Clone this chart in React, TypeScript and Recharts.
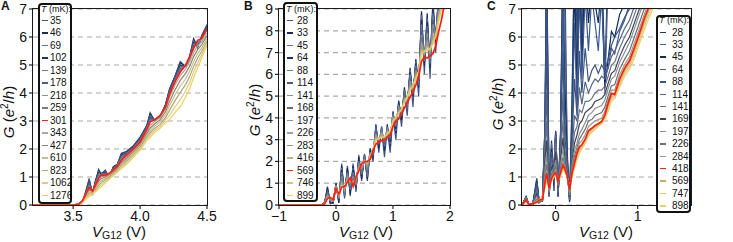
import React from "react";
import { LineChart, Line, XAxis, YAxis, CartesianGrid } from "recharts";

const FONT = '"Liberation Sans", Arial, Helvetica, sans-serif';
const RED = "#ff1e0f";

// ---------- panel A : G vs VG12, 3.2..4.5 V ----------
const aV = [3.2, 3.5, 3.54, 3.57, 3.6, 3.62, 3.645, 3.665, 3.69, 3.71, 3.74, 3.77, 3.8, 3.83, 3.86, 3.9, 3.95, 4.0, 4.05, 4.075, 4.11, 4.15, 4.19, 4.22, 4.26, 4.3, 4.34, 4.37, 4.4, 4.43, 4.46, 4.5];
const aTemps = ["35", "46", "69", "102", "139", "178", "218", "259", "301", "343", "427", "610", "823", "1062", "1276"];
const aG35 = [0, 0, 0.02, 0.1, 0.6, 0.95, 0.35, 0.8, 1.28, 1.1, 1.25, 0.95, 1.38, 1.45, 1.85, 1.92, 2.12, 2.42, 2.85, 3.3, 3.0, 3.15, 3.6, 4.15, 4.6, 5.12, 4.95, 5.3, 5.95, 5.65, 6.05, 6.45];
const aG46 = [0, 0, 0.02, 0.1, 0.55, 0.9, 0.4, 0.85, 1.22, 1.12, 1.22, 1.0, 1.35, 1.45, 1.82, 1.9, 2.1, 2.4, 2.82, 3.25, 3.02, 3.15, 3.58, 4.12, 4.58, 5.08, 4.95, 5.28, 5.9, 5.62, 6.02, 6.4];
const aG69 = [0, 0, 0.02, 0.11, 0.52, 0.85, 0.42, 0.82, 1.18, 1.12, 1.2, 1.02, 1.33, 1.44, 1.8, 1.88, 2.08, 2.38, 2.8, 3.18, 3.02, 3.14, 3.56, 4.08, 4.55, 5.02, 4.95, 5.25, 5.85, 5.65, 6.0, 6.38];
const aG102 = [0, 0, 0.02, 0.11, 0.5, 0.8, 0.44, 0.8, 1.15, 1.12, 1.17, 1.04, 1.31, 1.43, 1.77, 1.86, 2.07, 2.36, 2.78, 3.12, 3.03, 3.14, 3.55, 4.05, 4.52, 4.98, 4.96, 5.24, 5.8, 5.68, 5.98, 6.35];
const aG139 = [0, 0, 0.02, 0.12, 0.48, 0.75, 0.46, 0.77, 1.1, 1.1, 1.14, 1.06, 1.29, 1.42, 1.73, 1.84, 2.05, 2.33, 2.76, 3.08, 3.04, 3.15, 3.53, 4.02, 4.48, 4.92, 4.97, 5.22, 5.75, 5.7, 5.96, 6.3];
const aG178 = [0, 0, 0.03, 0.13, 0.47, 0.71, 0.47, 0.75, 1.05, 1.09, 1.11, 1.08, 1.27, 1.4, 1.69, 1.81, 2.03, 2.3, 2.73, 3.04, 3.04, 3.16, 3.51, 3.99, 4.44, 4.86, 4.98, 5.2, 5.68, 5.72, 5.93, 6.28];
const aG218 = [0, 0, 0.03, 0.14, 0.46, 0.68, 0.48, 0.72, 1.01, 1.08, 1.09, 1.1, 1.26, 1.39, 1.65, 1.79, 2.01, 2.28, 2.71, 3.0, 3.05, 3.17, 3.5, 3.97, 4.42, 4.8, 4.98, 5.22, 5.62, 5.78, 5.92, 6.27];
const aG259 = [0, 0, 0.03, 0.14, 0.45, 0.65, 0.49, 0.71, 0.98, 1.07, 1.07, 1.11, 1.25, 1.38, 1.62, 1.78, 2.0, 2.26, 2.7, 2.98, 3.05, 3.18, 3.5, 3.96, 4.41, 4.77, 4.99, 5.25, 5.6, 5.82, 5.93, 6.28];
const aG301 = [0, 0, 0.03, 0.15, 0.45, 0.63, 0.5, 0.7, 0.96, 1.07, 1.06, 1.13, 1.25, 1.38, 1.6, 1.78, 2.0, 2.25, 2.7, 2.97, 3.05, 3.2, 3.5, 3.95, 4.4, 4.75, 5.0, 5.3, 5.6, 5.88, 5.95, 6.3];
const aG343 = [0, 0, 0.04, 0.16, 0.43, 0.58, 0.5, 0.66, 0.9, 1.0, 1.05, 1.1, 1.2, 1.33, 1.55, 1.72, 1.95, 2.2, 2.62, 2.85, 2.98, 3.12, 3.42, 3.85, 4.28, 4.62, 4.85, 5.12, 5.45, 5.68, 5.82, 6.15];
const aG427 = [0, 0, 0.04, 0.15, 0.4, 0.53, 0.5, 0.62, 0.84, 0.94, 1.0, 1.08, 1.16, 1.29, 1.5, 1.67, 1.9, 2.15, 2.55, 2.75, 2.9, 3.05, 3.33, 3.7, 4.1, 4.45, 4.7, 4.95, 5.3, 5.55, 5.72, 6.05];
const aG610 = [0, 0, 0.04, 0.14, 0.36, 0.47, 0.48, 0.58, 0.77, 0.87, 0.95, 1.04, 1.13, 1.26, 1.45, 1.62, 1.86, 2.1, 2.48, 2.66, 2.82, 2.97, 3.22, 3.55, 3.92, 4.25, 4.5, 4.78, 5.12, 5.4, 5.6, 5.95];
const aG823 = [0, 0, 0.03, 0.13, 0.32, 0.42, 0.45, 0.54, 0.7, 0.8, 0.9, 1.0, 1.1, 1.23, 1.4, 1.57, 1.81, 2.06, 2.42, 2.58, 2.74, 2.88, 3.12, 3.38, 3.72, 4.02, 4.3, 4.58, 4.95, 5.25, 5.48, 5.85];
const aG1062 = [0, 0, 0.03, 0.11, 0.27, 0.36, 0.42, 0.5, 0.63, 0.72, 0.84, 0.96, 1.07, 1.2, 1.35, 1.51, 1.76, 2.01, 2.36, 2.5, 2.67, 2.81, 3.03, 3.2, 3.5, 3.76, 4.07, 4.37, 4.75, 5.08, 5.37, 5.78];
const aG1276 = [0, 0, 0.03, 0.1, 0.22, 0.3, 0.38, 0.46, 0.57, 0.65, 0.78, 0.93, 1.05, 1.17, 1.3, 1.45, 1.7, 1.96, 2.3, 2.42, 2.6, 2.74, 2.95, 3.04, 3.3, 3.51, 3.85, 4.15, 4.55, 4.9, 5.25, 5.7];
const aColors = ["#3c5687", "#1b2d57", "#5b73a1", "#1f3260", "#6a7d9e", "#4b5d80", "#8790a6", "#787c86", RED, "#a9a9a2", "#8f8664", "#c4bc98", "#b3a472", "#d9cb8c", "#f0cf55"];

// ---------- panel B : -1..2 V ----------
const bV = [-1, -0.3, -0.25, -0.2, -0.15, -0.1, -0.05, 0, 0.05, 0.1, 0.15, 0.2, 0.25, 0.3, 0.35, 0.4, 0.45, 0.5, 0.55, 0.6, 0.65, 0.7, 0.75, 0.8, 0.85, 0.9, 0.95, 1.0, 1.05, 1.1, 1.15, 1.2, 1.25, 1.3, 1.35, 1.4, 1.45, 1.5, 1.55, 1.6, 1.65, 1.7, 1.75, 1.8, 1.85, 1.9, 2.0];
const bTemps = ["28", "33", "45", "64", "88", "114", "141", "168", "197", "226", "283", "416", "569", "746", "899"];
const bG28 = [0, 0, 0, 0.1, 0.85, 0.05, 0.1, 1.0, 0.1, 1.9, 0.3, 1.8, 0.4, 1.9, 0.6, 2.3, 1.1, 2.35, 1.1, 2.5, 2.0, 3.6, 2.4, 3.5, 2.2, 3.5, 2.4, 4.1, 3.0, 4.6, 3.6, 5.2, 4.1, 6.1, 4.5, 6.5, 5.0, 8.8, 6.0, 8.6, 5.8, 9.2, 7.0, 9.5, 9.3, 10, 11];
const bG33 = [0, 0, 0, 0.1, 0.8, 0.1, 0.1, 1.0, 0.1, 1.8, 0.4, 1.7, 0.5, 1.8, 0.7, 2.2, 1.2, 2.3, 1.2, 2.6, 2.2, 3.7, 2.6, 3.6, 2.5, 3.7, 2.7, 4.3, 3.3, 4.8, 3.9, 5.4, 4.5, 6.3, 4.9, 6.7, 5.4, 8.9, 6.4, 8.8, 6.3, 9.4, 7.5, 9.8, 9.7, 10.4, 11.5];
const bG45 = [0, 0, 0, 0.1, 0.7, 0.1, 0.1, 0.9, 0.2, 1.7, 0.4, 1.6, 0.6, 1.7, 0.7, 2.1, 1.3, 2.3, 1.3, 2.5, 2.2, 3.6, 2.7, 3.6, 2.6, 3.6, 2.8, 4.2, 3.4, 4.7, 4.0, 5.3, 4.5, 6.2, 4.9, 6.6, 5.5, 8.7, 6.5, 8.6, 6.4, 9.1, 7.6, 9.7, 9.6, 10.3, 11.4];
const bG64 = [0, 0, 0, 0.1, 0.7, 0.1, 0.1, 0.9, 0.2, 1.6, 0.5, 1.6, 0.6, 1.6, 0.8, 2.1, 1.3, 2.2, 1.4, 2.5, 2.2, 3.5, 2.7, 3.5, 2.6, 3.5, 2.9, 4.2, 3.5, 4.7, 4.0, 5.2, 4.6, 6.1, 5.0, 6.5, 5.6, 8.5, 6.5, 8.4, 6.4, 9.0, 7.6, 9.6, 9.6, 10.3, 11.4];
const bG88 = [0, 0, 0, 0.1, 0.6, 0.2, 0.2, 0.9, 0.3, 1.5, 0.5, 1.5, 0.7, 1.5, 0.9, 2.0, 1.4, 2.2, 1.4, 2.4, 2.3, 3.5, 2.8, 3.5, 2.7, 3.5, 3.0, 4.2, 3.6, 4.6, 4.1, 5.2, 4.6, 6.0, 5.1, 6.4, 5.6, 8.3, 6.6, 8.2, 6.5, 8.8, 7.6, 9.4, 9.5, 10.2, 11.3];
const bG114 = [0, 0, 0, 0.1, 0.6, 0.2, 0.2, 0.9, 0.3, 1.4, 0.6, 1.4, 0.8, 1.4, 0.9, 1.9, 1.5, 2.2, 1.5, 2.4, 2.3, 3.4, 2.8, 3.4, 2.8, 3.5, 3.0, 4.1, 3.7, 4.5, 4.1, 5.1, 4.7, 5.8, 5.1, 6.3, 5.7, 8.0, 6.7, 8.1, 6.6, 8.5, 7.6, 9.3, 9.4, 10.1, 11.3];
const bG141 = [0, 0, 0, 0.1, 0.5, 0.2, 0.2, 0.9, 0.3, 1.3, 0.6, 1.4, 0.9, 1.3, 1.0, 1.9, 1.6, 2.1, 1.6, 2.4, 2.4, 3.3, 2.9, 3.4, 2.9, 3.5, 3.1, 4.1, 3.7, 4.5, 4.2, 5.0, 4.7, 5.7, 5.2, 6.2, 5.8, 7.8, 6.8, 7.9, 6.7, 8.3, 7.7, 9.1, 9.3, 10.0, 11.2];
const bG168 = [0, 0, 0, 0.1, 0.5, 0.25, 0.2, 0.8, 0.4, 1.2, 0.7, 1.3, 0.9, 1.2, 1.1, 1.8, 1.6, 2.1, 1.7, 2.3, 2.4, 3.3, 2.9, 3.3, 2.9, 3.4, 3.2, 4.0, 3.8, 4.4, 4.2, 5.0, 4.8, 5.6, 5.2, 6.1, 5.9, 7.7, 6.8, 7.7, 6.8, 8.1, 7.7, 9.0, 9.3, 10.0, 11.2];
const bG197 = [0, 0, 0, 0.05, 0.45, 0.3, 0.2, 0.8, 0.4, 1.1, 0.7, 1.3, 1.0, 1.1, 1.1, 1.8, 1.7, 2.1, 1.75, 2.3, 2.5, 3.2, 3.0, 3.3, 3.0, 3.4, 3.2, 4.0, 3.9, 4.4, 4.3, 4.9, 4.8, 5.6, 5.3, 6.1, 6.0, 7.5, 6.9, 7.6, 6.9, 8.0, 7.7, 8.9, 9.2, 9.9, 11.1];
const bG226 = [0, 0, 0, 0.05, 0.4, 0.3, 0.2, 0.8, 0.4, 1.05, 0.7, 1.2, 1.05, 1.05, 1.15, 1.7, 1.7, 2.05, 1.8, 2.3, 2.5, 3.2, 3.0, 3.3, 3.0, 3.4, 3.3, 4.0, 3.9, 4.3, 4.3, 4.9, 4.9, 5.5, 5.4, 6.0, 6.0, 7.4, 6.9, 7.5, 7.0, 7.8, 7.7, 8.8, 9.2, 9.9, 11.1];
const bG283 = [0, 0, 0, 0.05, 0.4, 0.3, 0.2, 0.8, 0.44, 1.0, 0.76, 1.17, 1.11, 1.02, 1.19, 1.67, 1.77, 2.04, 1.86, 2.26, 2.52, 3.13, 3.02, 3.24, 3.07, 3.36, 3.32, 3.93, 3.96, 4.3, 4.35, 4.82, 4.9, 5.43, 5.39, 5.96, 6.06, 7.25, 6.97, 7.4, 7.03, 7.71, 7.75, 8.7, 9.13, 9.83, 11.08];
const bG416 = [0, 0, 0, 0.05, 0.36, 0.32, 0.24, 0.78, 0.46, 0.93, 0.8, 1.13, 1.17, 0.96, 1.23, 1.63, 1.82, 2.02, 1.91, 2.24, 2.55, 3.08, 3.05, 3.2, 3.12, 3.34, 3.37, 3.9, 4.02, 4.27, 4.39, 4.78, 4.94, 5.37, 5.43, 5.9, 6.11, 7.12, 7.02, 7.29, 7.1, 7.58, 7.77, 8.61, 9.08, 9.78, 11.05];
const bG569 = [0, 0, 0, 0.05, 0.3, 0.35, 0.25, 0.75, 0.5, 0.82, 0.85, 1.05, 1.25, 0.85, 1.3, 1.55, 1.9, 1.98, 2.0, 2.1, 2.5, 2.8, 2.9, 2.95, 3.0, 3.1, 3.2, 3.6, 3.85, 3.95, 4.2, 4.45, 4.7, 4.95, 5.2, 5.5, 5.9, 6.6, 6.8, 6.75, 6.85, 6.95, 7.3, 7.95, 8.5, 9.2, 10.5];
const bG746 = [0, 0, 0, 0.05, 0.33, 0.33, 0.25, 0.76, 0.48, 0.88, 0.82, 1.1, 1.2, 0.92, 1.26, 1.6, 1.86, 2.0, 1.95, 2.2, 2.55, 3.0, 3.05, 3.12, 3.13, 3.28, 3.38, 3.85, 4.02, 4.22, 4.4, 4.72, 4.95, 5.3, 5.45, 5.82, 6.12, 7.0, 7.05, 7.15, 7.15, 7.45, 7.75, 8.5, 9.05, 9.75, 11.0];
const bG899 = [0, 0, 0, 0.04, 0.3, 0.34, 0.27, 0.74, 0.5, 0.85, 0.83, 1.08, 1.22, 0.9, 1.28, 1.58, 1.88, 1.99, 1.98, 2.18, 2.55, 2.96, 3.06, 3.1, 3.14, 3.25, 3.4, 3.82, 4.03, 4.2, 4.42, 4.68, 4.97, 5.25, 5.48, 5.78, 6.15, 6.92, 7.08, 7.08, 7.18, 7.38, 7.75, 8.42, 9.02, 9.7, 10.9];
const bColors = ["#3b5585", "#17295a", "#5b72a0", "#1c2f5e", "#6a7ca0", "#4a5b7e", "#8690a5", "#6a6d75", "#8d8f94", "#a0a09c", "#9f9878", "#bdb38a", RED, "#d8c682", "#efcd52"];

// ---------- panel C : -0.41..1.65 V ----------
const cV = [-0.41, -0.36, -0.33, -0.28, -0.23, -0.2, -0.16, -0.13, -0.11, -0.08, -0.05, -0.02, 0.0, 0.03, 0.06, 0.09, 0.11, 0.14, 0.17, 0.2, 0.23, 0.26, 0.29, 0.32, 0.36, 0.4, 0.44, 0.48, 0.52, 0.56, 0.6, 0.64, 0.68, 0.72, 0.78, 0.84, 0.9, 0.96, 1.02, 1.08, 1.14, 1.2, 1.35, 1.65];
const cTemps = ["28", "33", "45", "64", "88", "114", "141", "169", "197", "226", "284", "418", "569", "747", "898"];
const cG28 = [0, 0.3, 0.05, 0.0, 0.95, 0.1, 0.3, 2.8, 9.5, 0.4, 2.3, 0.5, 2.65, 0.3, 2.6, 9.5, 9.0, 2.0, 0.1, 3.8, 9.5, 6.0, 9.5, 6.0, 9.5, 8.5, 9.0, 9.0, 7.5, 9.0, 4.5, 9.0, 9.5, 10, 10.5, 11, 11.5, 12, 12.5, 13, 13.5, 14, 15, 16];
const cG33 = [0, 0.3, 0.05, 0.01, 0.9, 0.1, 0.3, 2.6, 9.0, 0.4, 2.2, 0.8, 2.5, 0.3, 2.6, 9.0, 7.5, 1.8, 0.15, 3.5, 9.0, 5.0, 9.0, 5.5, 9.0, 7.5, 8.5, 8.0, 7.0, 8.5, 4.0, 8.0, 9.0, 9.5, 10, 10.5, 11, 11.5, 12, 12.5, 13, 13.5, 14, 15];
const cG45 = [0, 0.28, 0.05, 0.01, 0.85, 0.1, 0.25, 2.8, 8.5, 0.35, 2.0, 1.0, 2.6, 0.3, 2.5, 8.5, 4.5, 1.7, 0.15, 3.0, 8.0, 4.0, 8.5, 5.0, 8.5, 6.5, 8.0, 7.2, 6.5, 8.0, 4.2, 5.2, 6.2, 6.0, 6.8, 7.2, 7.6, 10.5, 11, 11.5, 12, 12.5, 13, 14];
const cG64 = [0, 0.28, 0.05, 0.02, 0.8, 0.1, 0.25, 2.7, 7.5, 0.3, 1.9, 1.2, 2.6, 0.35, 2.4, 7.5, 3.2, 1.6, 0.2, 2.6, 6.5, 3.5, 7.5, 4.5, 7.5, 5.5, 7.5, 6.5, 5.5, 7.5, 4.6, 4.9, 5.6, 5.4, 6.2, 6.6, 7.2, 7.8, 8.3, 8.8, 9.3, 9.8, 11, 13];
const cG88 = [0, 0.27, 0.04, 0.02, 0.7, 0.1, 0.2, 2.5, 5.5, 0.3, 1.8, 1.4, 2.6, 0.4, 2.2, 5.5, 2.5, 1.5, 0.2, 2.3, 4.5, 3.2, 5.5, 4.0, 5.6, 4.4, 4.8, 5.0, 4.7, 5.0, 4.8, 5.2, 5.7, 6.0, 6.3, 6.7, 7.0, 7.5, 8.0, 8.5, 9.0, 9.4, 10.3, 12];
const cG114 = [0, 0.26, 0.03, 0.03, 0.6, 0.1, 0.15, 2.2, 4.0, 0.3, 1.7, 1.5, 2.5, 0.45, 2.0, 4.0, 2.0, 1.4, 0.2, 2.0, 3.2, 3.0, 4.2, 3.6, 4.4, 4.0, 4.3, 4.5, 4.4, 4.6, 4.5, 4.9, 5.3, 5.5, 5.9, 6.3, 6.6, 7.1, 7.6, 8.1, 8.6, 9.0, 10, 11.5];
const cG141 = [0, 0.25, 0.03, 0.03, 0.5, 0.1, 0.15, 1.9, 3.0, 0.35, 1.5, 1.45, 2.2, 0.5, 1.8, 3.0, 1.8, 1.3, 0.25, 1.8, 2.6, 2.8, 3.4, 3.3, 3.7, 3.7, 3.8, 4.0, 4.1, 4.1, 4.25, 4.6, 5.0, 5.1, 5.6, 6.0, 6.3, 6.8, 7.3, 7.8, 8.3, 8.7, 9.7, 11.2];
const cG169 = [0, 0.25, 0.03, 0.03, 0.4, 0.1, 0.15, 1.6, 2.3, 0.4, 1.35, 1.4, 1.9, 0.6, 1.6, 2.4, 1.6, 1.2, 0.3, 1.6, 2.2, 2.5, 2.9, 3.0, 3.3, 3.4, 3.5, 3.7, 3.75, 3.8, 3.95, 4.35, 4.7, 4.8, 5.3, 5.7, 6.0, 6.5, 7.0, 7.5, 8.0, 8.4, 9.4, 10.8];
const cG197 = [0, 0.24, 0.02, 0.04, 0.3, 0.1, 0.16, 1.3, 1.8, 0.45, 1.2, 1.3, 1.6, 0.7, 1.45, 2.0, 1.5, 1.1, 0.35, 1.45, 1.95, 2.2, 2.55, 2.7, 2.95, 3.2, 3.3, 3.45, 3.5, 3.55, 3.75, 4.15, 4.5, 4.6, 5.1, 5.45, 5.8, 6.3, 6.8, 7.3, 7.8, 8.2, 9.2, 10.6];
const cG226 = [0, 0.22, 0.02, 0.04, 0.2, 0.12, 0.18, 1.1, 1.45, 0.5, 1.1, 1.2, 1.35, 0.75, 1.3, 1.7, 1.4, 1.05, 0.4, 1.3, 1.75, 2.05, 2.35, 2.5, 2.7, 3.0, 3.05, 3.2, 3.25, 3.3, 3.5, 3.9, 4.25, 4.3, 4.85, 5.2, 5.5, 6.0, 6.5, 7.0, 7.5, 7.9, 8.9, 10.4];
const cG284 = [0, 0.2, 0.02, 0.05, 0.15, 0.15, 0.2, 0.95, 1.25, 0.55, 1.0, 1.15, 1.25, 0.8, 1.2, 1.55, 1.35, 1.05, 0.45, 1.2, 1.6, 1.95, 2.2, 2.3, 2.5, 2.8, 2.9, 3.0, 3.05, 3.1, 3.35, 3.75, 4.1, 4.1, 4.65, 5.0, 5.3, 5.8, 6.3, 6.8, 7.3, 7.7, 8.7, 10.2];
const cG418 = [0, 0.18, 0.02, 0.05, 0.1, 0.18, 0.2, 0.8, 1.13, 0.6, 0.95, 1.1, 1.15, 0.85, 1.15, 1.42, 1.3, 1.05, 0.55, 1.15, 1.5, 1.85, 2.08, 2.15, 2.35, 2.65, 2.74, 2.84, 2.9, 2.98, 3.21, 3.63, 3.98, 3.95, 4.5, 4.88, 5.15, 5.62, 6.12, 6.65, 7.1, 7.5, 8.5, 10];
const cG569 = [0, 0.16, 0.03, 0.05, 0.1, 0.18, 0.23, 0.72, 1.0, 0.62, 0.9, 1.06, 1.1, 0.85, 1.1, 1.35, 1.26, 1.04, 0.6, 1.1, 1.42, 1.75, 2.0, 2.1, 2.3, 2.58, 2.7, 2.8, 2.87, 2.96, 3.15, 3.53, 3.88, 3.9, 4.4, 4.78, 5.05, 5.5, 6.0, 6.52, 6.98, 7.38, 8.38, 9.88];
const cG747 = [0, 0.14, 0.04, 0.05, 0.11, 0.19, 0.26, 0.66, 0.92, 0.63, 0.88, 1.03, 1.08, 0.85, 1.08, 1.3, 1.23, 1.02, 0.65, 1.05, 1.37, 1.68, 1.93, 2.05, 2.25, 2.52, 2.65, 2.76, 2.84, 2.93, 3.1, 3.45, 3.8, 3.85, 4.3, 4.7, 4.95, 5.38, 5.88, 6.4, 6.85, 7.25, 8.25, 9.75];
const cG898 = [0, 0.12, 0.05, 0.05, 0.12, 0.2, 0.3, 0.6, 0.85, 0.65, 0.85, 1.0, 1.05, 0.85, 1.05, 1.25, 1.2, 1.0, 0.7, 1.0, 1.3, 1.6, 1.85, 2.0, 2.2, 2.45, 2.6, 2.7, 2.8, 2.9, 3.05, 3.35, 3.7, 3.8, 4.2, 4.6, 4.85, 5.25, 5.75, 6.25, 6.7, 7.1, 8.1, 9.6];
const cColors = ["#1d3566", "#4f6489", "#102a5a", "#3b5a94", "#3d5380", "#556687", "#66738e", "#3f4450", "#8b8e95", "#6d7074", "#9d9a86", RED, "#c4af62", "#d9c776", "#e8cf6c"];

const aValues = [aG35, aG46, aG69, aG102, aG139, aG178, aG218, aG259, aG301, aG343, aG427, aG610, aG823, aG1062, aG1276];
const bValues = [bG28, bG33, bG45, bG64, bG88, bG114, bG141, bG168, bG197, bG226, bG283, bG416, bG569, bG746, bG899];
const cValues = [cG28, cG33, cG45, cG64, cG88, cG114, cG141, cG169, cG197, cG226, cG284, cG418, cG569, cG747, cG898];

const tickStyle = { fontSize: 14, fill: "#111", fontFamily: FONT };
const minusFmt = (v: number) => (v < 0 ? "\u2212" + Math.abs(v) : String(v));

interface PanelProps {
  left: number;
  width: number;
  mLeft: number;
  mRight: number;
  V: number[];
  values: number[][];
  colors: string[];
  xDomain: [number, number];
  xTicks: number[];
  xFmt: (v: number) => string;
  yMax: number;
}

function Panel({ left, width, mLeft, mRight, V, values, colors, xDomain, xTicks, xFmt, yMax }: PanelProps) {
  const rows = V.map((v, i) => {
    const r: Record<string, number> = { v };
    values.forEach((s, k) => {
      r["s" + k] = s[i];
    });
    return r;
  });
  const redIdx = colors.indexOf(RED);
  const order = values.map((_, k) => k).filter((k) => k !== redIdx).concat(redIdx);
  const yTicks = Array.from({ length: yMax + 1 }, (_, i) => i);
  // plot box, drawn over the lines like the original frame
  const plotL = mLeft + 25;
  const plotR = width - mRight;

  return (
    <div style={{ position: "absolute", left, top: 0, width, height: 242 }}>
      <LineChart width={width} height={242} data={rows} margin={{ top: 9, right: mRight, bottom: 12, left: mLeft }}>
        <CartesianGrid vertical={false} stroke="#aaaaaa" strokeDasharray="5 4" strokeWidth={1.2} />
        <XAxis
          type="number"
          dataKey="v"
          domain={xDomain}
          ticks={xTicks}
          interval={0}
          allowDataOverflow
          tickFormatter={xFmt}
          height={25}
          tickSize={4}
          tickMargin={2}
          axisLine={false}
          tickLine={{ stroke: "#222", strokeWidth: 1.2 }}
          tick={tickStyle}
        />
        <YAxis
          type="number"
          domain={[0, yMax]}
          ticks={yTicks}
          interval={0}
          allowDataOverflow
          width={25}
          tickSize={4}
          tickMargin={2}
          axisLine={false}
          tickLine={{ stroke: "#222", strokeWidth: 1.2 }}
          tick={tickStyle}
        />
        {order.map((k) => (
          <Line
            key={k}
            type="linear"
            dataKey={"s" + k}
            stroke={colors[k]}
            strokeWidth={k === redIdx ? 1.7 : 1.2}
            dot={false}
            activeDot={false}
            isAnimationActive={false}
          />
        ))}
      </LineChart>
      <div
        style={{
          position: "absolute",
          left: plotL - 0.75,
          top: 9 - 0.75,
          width: plotR - plotL + 1.5,
          height: 196 + 1.5,
          boxSizing: "border-box",
          border: "1.5px solid #1a1a1a",
          pointerEvents: "none",
        }}
      />
    </div>
  );
}

interface LegendProps {
  left: number;
  top: number;
  width: number;
  height: number;
  temps: string[];
  colors: string[];
  titleY: number;
  firstY: number;
  step: number;
  textLeft: number;
}

function TLegend({ left, top, width, height, temps, colors, titleY, firstY, step, textLeft }: LegendProps) {
  return (
    <div
      style={{
        position: "absolute",
        left,
        top,
        width,
        height,
        boxSizing: "border-box",
        border: "2px solid #111",
        borderRadius: 4,
        background: "#fff",
        fontSize: 10,
        lineHeight: "12px",
      }}
    >
      <div style={{ position: "absolute", left: 1, top: titleY - top - 8, whiteSpace: "nowrap", fontSize: 9 }}>
        <i>T</i> (mK):
      </div>
      {temps.map((t, i) => {
        const cy = firstY + i * step - top - 2;
        return (
          <React.Fragment key={t}>
            <div style={{ position: "absolute", left: 2, top: cy - 1, width: 6, height: 1.6, background: colors[i] }} />
            <div style={{ position: "absolute", left: textLeft, top: cy - 6, whiteSpace: "nowrap" }}>{t}</div>
          </React.Fragment>
        );
      })}
    </div>
  );
}

function YLabel({ x, y }: { x: number; y: number }) {
  return (
    <div
      style={{
        position: "absolute",
        left: x,
        top: y,
        transform: "translate(-50%, -50%) rotate(-90deg)",
        whiteSpace: "nowrap",
        fontSize: 15,
        lineHeight: "17px",
      }}
    >
      <i>G</i> (<i>e</i>
      <sup style={{ fontSize: 10, verticalAlign: "6px", lineHeight: 0 }}>2</sup>/<i>h</i>)
    </div>
  );
}

function XLabel({ x }: { x: number }) {
  return (
    <div
      style={{
        position: "absolute",
        left: x,
        top: 224,
        transform: "translateX(-50%)",
        whiteSpace: "nowrap",
        fontSize: 15,
        lineHeight: "15px",
      }}
    >
      <i>V</i>
      <sub style={{ fontSize: 10.5, verticalAlign: "-2px", lineHeight: 0 }}>G12</sub> (V)
    </div>
  );
}

function Letter({ x, ch }: { x: number; ch: string }) {
  return <div style={{ position: "absolute", left: x, top: -1, fontSize: 12, fontWeight: "bold" }}>{ch}</div>;
}

export default function App() {
  return (
    <div
      style={{
        position: "absolute",
        left: 0,
        top: 0,
        width: 733,
        height: 242,
        overflow: "hidden",
        background: "#fff",
        fontFamily: FONT,
        color: "#111",
      }}
    >
      <Panel left={0} width={230} mLeft={8} mRight={23} V={aV} values={aValues} colors={aColors}
        xDomain={[3.2, 4.5]} xTicks={[3.5, 4.0, 4.5]} xFmt={(v) => v.toFixed(1)} yMax={7} />
      <Panel left={245} width={215} mLeft={9} mRight={10} V={bV} values={bValues} colors={bColors}
        xDomain={[-1, 2]} xTicks={[-1, 0, 1, 2]} xFmt={minusFmt} yMax={9} />
      <Panel left={488} width={215} mLeft={9} mRight={12} V={cV} values={cValues} colors={cColors}
        xDomain={[-0.41, 1.65]} xTicks={[0, 1]} xFmt={minusFmt} yMax={7} />

      <TLegend left={38} top={3} width={34} height={201} temps={aTemps} colors={aColors}
        titleY={9} firstY={20.5} step={12.5} textLeft={10} />
      <TLegend left={283} top={2} width={35} height={200} temps={bTemps} colors={bColors}
        titleY={9} firstY={20.5} step={12.5} textLeft={12} />
      <TLegend left={656} top={15} width={35} height={198} temps={cTemps} colors={cColors}
        titleY={20} firstY={32.5} step={12.4} textLeft={14} />

      <YLabel x={8} y={112} />
      <YLabel x={254} y={110} />
      <YLabel x={497} y={104} />
      <XLabel x={119} />
      <XLabel x={366} />
      <XLabel x={606} />

      <Letter x={1} ch="A" />
      <Letter x={244} ch="B" />
      <Letter x={487} ch="C" />
    </div>
  );
}
